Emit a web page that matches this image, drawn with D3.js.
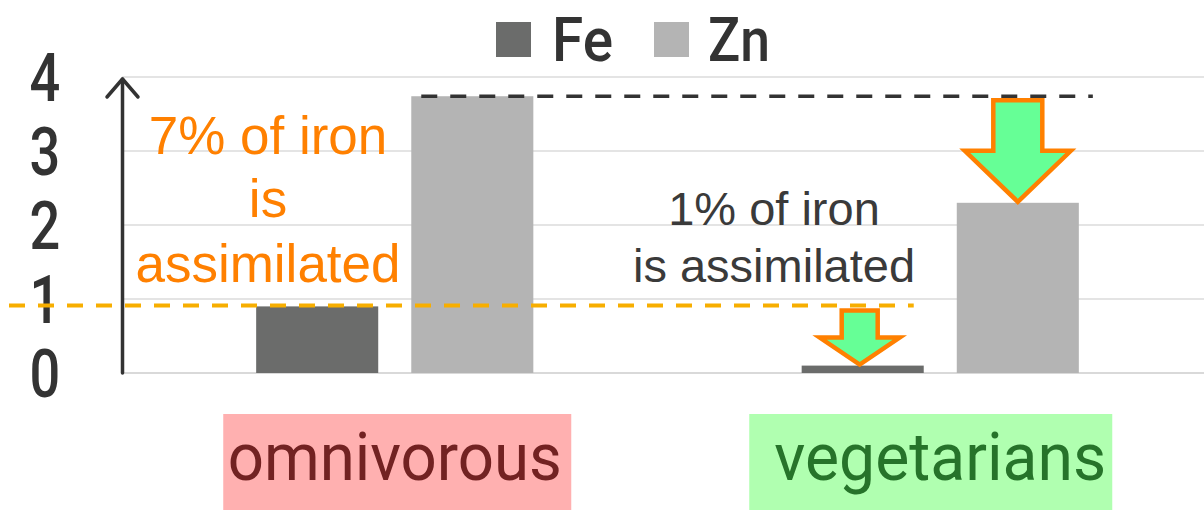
<!DOCTYPE html>
<html>
<head>
<meta charset="utf-8">
<script src="https://cdn.jsdelivr.net/npm/d3@7"></script>
<style>
  html, body { margin: 0; padding: 0; background: #ffffff; }
  svg { display: block; }
</style>
</head>
<body>
<svg id="chart" width="1204" height="510"></svg>
<script>
// ---- data ----
const categories = ["omnivorous", "vegetarians"];
const seriesNames = ["Fe", "Zn"];
const feValues = [0.9, 0.1];
const znValues = [3.74, 2.3];
const yTicks = [0, 1, 2, 3, 4];
const omniNote = ["7% of iron", "is", "assimilated"];
const vegNote = ["1% of iron", "is assimilated"];

// ---- styles ----
const W = 1204, H = 510;
const seriesColors = { Fe: "#6b6c6b", Zn: "#b4b4b4" };
const catBoxColors = ["#ffb0b0", "#b0ffb0"];
const catTextColors = ["#722222", "#26732a"];
const catBoxOffsets = [[-171.5, 176.5], [-191, 172]];
const catTextLen = [334, 332];
const dinFont = "Roboto, 'DejaVu Sans', sans-serif";
const arialFont = "'Liberation Sans', Arial, sans-serif";

const svg = d3.select("#chart");

const y = d3.scaleLinear().domain([0, 4]).range([373, 77]);
const x0 = d3.scaleBand().domain(categories).range([122, 1213]).padding(0);
const x1 = d3.scaleBand().domain(seriesNames).range([0, x0.bandwidth()])
  .paddingInner(0.213).paddingOuter(0.865);

const rows = categories.map((c, i) => ({ cat: c, Fe: feValues[i], Zn: znValues[i] }));

// gridlines
svg.append("g").selectAll("line").data(yTicks).join("line")
  .attr("x1", 122).attr("x2", W)
  .attr("y1", d => y(d)).attr("y2", d => y(d))
  .attr("stroke", d => d === 0 ? "#d9d9d9" : "#e4e4e4")
  .attr("stroke-width", 2);

// tick labels
svg.append("g").selectAll("text").data(yTicks).join("text")
  .attr("transform", d => `translate(45,${y(d) + 23.5}) scale(0.82,1)`)
  .attr("text-anchor", "middle")
  .attr("font-family", dinFont).attr("font-weight", 500)
  .attr("font-size", 66).attr("fill", "#333333")
  .text(d => d);

// bars
const groups = svg.append("g").selectAll("g").data(rows).join("g")
  .attr("transform", d => `translate(${x0(d.cat)},0)`);
groups.selectAll("rect").data(d => seriesNames.map(s => ({ s, v: d[s] }))).join("rect")
  .attr("x", d => x1(d.s))
  .attr("width", x1.bandwidth())
  .attr("y", d => y(d.v))
  .attr("height", d => y(0) - y(d.v))
  .attr("fill", d => seriesColors[d.s]);

// y-axis arrow
const axisG = svg.append("g").attr("stroke", "#333333").attr("stroke-width", 3.5)
  .attr("fill", "none").attr("stroke-linecap", "round").attr("stroke-linejoin", "round");
axisG.append("line").attr("x1", 122.5).attr("x2", 122.5).attr("y1", y(0)).attr("y2", y(4) + 2);
axisG.append("path").attr("d", `M107,${y(4) + 20} L122.5,${y(4) + 2} L138,${y(4) + 20}`);

// orange dashed reference line (omnivorous Fe)
const feVegX = x0(categories[1]) + x1("Fe");
svg.append("line")
  .attr("x1", 9).attr("x2", feVegX + x1.bandwidth() - 10)
  .attr("y1", y(feValues[0]) - 1).attr("y2", y(feValues[0]) - 1)
  .attr("stroke", "#f7ae00").attr("stroke-width", 4)
  .attr("stroke-dasharray", "16,13");

// black dashed reference line (omnivorous Zn)
const znOmniX = x0(categories[0]) + x1("Zn");
const znVegX = x0(categories[1]) + x1("Zn");
svg.append("line")
  .attr("x1", znOmniX + 10).attr("x2", znVegX + x1.bandwidth() + 14)
  .attr("y1", y(znValues[0])).attr("y2", y(znValues[0]))
  .attr("stroke", "#333333").attr("stroke-width", 3.5)
  .attr("stroke-dasharray", "16,13");

// block arrows
function blockArrow(cx, yTop, yTip, shaftHalf, headHalf, headH) {
  const ys = yTip - headH;
  return `M${cx - shaftHalf},${yTop} L${cx + shaftHalf},${yTop} L${cx + shaftHalf},${ys} ` +
    `L${cx + headHalf},${ys} L${cx},${yTip} L${cx - headHalf},${ys} L${cx - shaftHalf},${ys} Z`;
}
const arrows = [
  { cx: znVegX + x1.bandwidth() / 2, from: znValues[0], to: znValues[1], sh: 24.5, hh: 53, hH: 51 },
  { cx: feVegX + x1.bandwidth() / 2 - 3, from: feValues[0], to: feValues[1], sh: 18, hh: 40, hH: 27 }
];
svg.append("g").selectAll("path").data(arrows).join("path")
  .attr("d", d => blockArrow(d.cx, y(d.from) + 4, y(d.to) - 1, d.sh, d.hh, d.hH))
  .attr("fill", "#66ff96").attr("stroke", "#ff8000").attr("stroke-width", 4.5)
  .attr("stroke-linejoin", "miter");

// annotations
svg.append("g").selectAll("text").data(omniNote).join("text")
  .attr("x", 268).attr("y", (d, i) => [154, 217, 282][i])
  .attr("text-anchor", "middle")
  .attr("font-family", arialFont).attr("font-size", 53).attr("fill", "#ff8000")
  .text(d => d);
svg.append("g").selectAll("text").data(vegNote).join("text")
  .attr("x", 774).attr("y", (d, i) => [225, 282][i])
  .attr("text-anchor", "middle")
  .attr("font-family", arialFont).attr("font-size", 47).attr("fill", "#3a3a3a")
  .text(d => d);

// legend
const legendItems = [
  { s: "Fe", sx: 496, tx: 552, tl: 61 },
  { s: "Zn", sx: 654, tx: 708, tl: 62 }
];
const lg = svg.append("g");
lg.selectAll("rect").data(legendItems).join("rect")
  .attr("x", d => d.sx).attr("y", 22).attr("width", 35).attr("height", 35)
  .attr("fill", d => seriesColors[d.s]);
lg.selectAll("text").data(legendItems).join("text")
  .attr("x", d => d.tx).attr("y", 61)
  .attr("textLength", d => d.tl).attr("lengthAdjust", "spacingAndGlyphs")
  .attr("font-family", dinFont).attr("font-weight", 500)
  .attr("font-size", 62).attr("fill", "#333333")
  .text(d => d.s);

// category labels with coloured boxes
const cg = svg.append("g").selectAll("g").data(categories).join("g");
cg.append("rect")
  .attr("x", (d, i) => x0(d) + x0.bandwidth() / 2 + catBoxOffsets[i][0])
  .attr("width", (d, i) => catBoxOffsets[i][1] - catBoxOffsets[i][0])
  .attr("y", 414).attr("height", 110)
  .attr("fill", (d, i) => catBoxColors[i]);
cg.append("text")
  .attr("x", d => x0(d) + x0.bandwidth() / 2)
  .attr("y", 480)
  .attr("text-anchor", "middle")
  .attr("textLength", (d, i) => catTextLen[i]).attr("lengthAdjust", "spacingAndGlyphs")
  .attr("font-family", dinFont).attr("font-weight", 400)
  .attr("font-size", 66).attr("fill", (d, i) => catTextColors[i])
  .text(d => d);
</script>
</body>
</html>
